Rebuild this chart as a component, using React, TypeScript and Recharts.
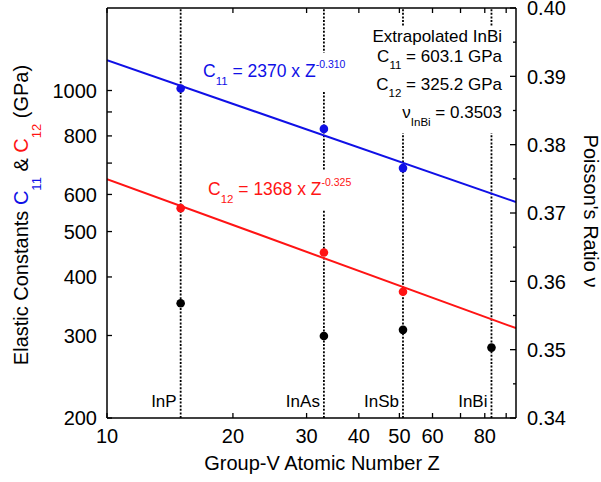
import React from "react";
import { ComposedChart, Line, Scatter, XAxis, YAxis, ReferenceLine } from "recharts";

const FONT = "'Liberation Sans', Arial, Helvetica, sans-serif";
const BLUE = "#1010e6";
const RED = "#ff1414";

// InP, InAs, InSb, InBi at Group-V atomic number Z
const compounds = ["InP", "InAs", "InSb", "InBi"];
const atomicZ = [15, 33, 51, 83];

// measured elastic constants (GPa), no InBi value
const c11Values = [1010, 828, 683];
const c12Values = [561, 451, 372];
// Poisson's ratio, InBi is the extrapolated one
const poissonValues = [0.3568, 0.352, 0.3529, 0.3503];

// power-law fits, read at the plot edges
const fitZ = [10, 95];
const c11Fit = [1161, 578];
const c12Fit = [647, 311];

const xTicks = [10, 20, 30, 40, 50, 60, 70, 80, 90];
const xTickLabels = ["10", "20", "30", "40", "50", "60", "", "80", ""];
const leftTicks = [200, 300, 400, 500, 600, 700, 800, 900, 1000];
const leftTickLabels = ["200", "300", "400", "500", "600", "", "800", "", "1000"];
const rightTicks = [0.34, 0.345, 0.35, 0.355, 0.36, 0.365, 0.37, 0.375, 0.38, 0.385, 0.39, 0.395, 0.4];
const rightTickLabels = ["0.34", "", "0.35", "", "0.36", "", "0.37", "", "0.38", "", "0.39", "", "0.40"];

const c11Data = c11Values.map((v, i) => ({ z: atomicZ[i], v }));
const c12Data = c12Values.map((v, i) => ({ z: atomicZ[i], v }));
const poissonData = poissonValues.map((v, i) => ({ z: atomicZ[i], v }));
const c11FitData = fitZ.map((z, i) => ({ z, v: c11Fit[i] }));
const c12FitData = fitZ.map((z, i) => ({ z, v: c12Fit[i] }));

// white breaks in the dotted guide lines behind the annotations (pixel y)
const lineGaps: Record<string, number[][]> = {
  InP: [],
  InAs: [[53, 92], [170, 210]],
  InSb: [[27, 133]],
  InBi: [[27, 133]],
};

const BottomTick = (p: any) => (
  <g>
    <line x1={p.x} y1={p.y} x2={p.x} y2={p.y - 5} stroke="#000" strokeWidth={1.3} />
    <text x={p.x} y={p.y + 25} textAnchor="middle" fontFamily={FONT} fontSize={20} fill="#000">
      {xTickLabels[p.index]}
    </text>
  </g>
);

const TopTick = (p: any) => (
  <line x1={p.x} y1={p.y} x2={p.x} y2={p.y + 5} stroke="#000" strokeWidth={1.3} />
);

const LeftTick = (p: any) => (
  <g>
    <line x1={p.x} y1={p.y} x2={p.x + 5} y2={p.y} stroke="#000" strokeWidth={1.3} />
    <text x={p.x - 10} y={p.y} dy="0.36em" textAnchor="end" fontFamily={FONT} fontSize={20} fill="#000">
      {leftTickLabels[p.index]}
    </text>
  </g>
);

const RightTick = (p: any) => {
  const label = rightTickLabels[p.index];
  return (
    <g>
      <line x1={p.x} y1={p.y} x2={p.x - (label ? 6 : 3)} y2={p.y} stroke="#000" strokeWidth={1.3} />
      <text x={p.x + 11} y={p.y} dy="0.36em" textAnchor="start" fontFamily={FONT} fontSize={20} fill="#000">
        {label}
      </text>
    </g>
  );
};

const guideLabel = (name: string) => (props: any) => {
  const x = props.viewBox.x;
  return (
    <g>
      {lineGaps[name].map(([a, b], i) => (
        <rect key={i} x={x - 3} y={a} width={6} height={b - a} fill="#fff" />
      ))}
      <text x={x - 4} y={407} textAnchor="end" fontFamily={FONT} fontSize={17} fill="#000">
        {name}
      </text>
    </g>
  );
};

const dot = (color: string) => (p: any) => <circle cx={p.cx} cy={p.cy} r={4.3} fill={color} />;

export default function App() {
  return (
    <div style={{ position: "absolute", left: 0, top: 0, width: 601, height: 482, background: "#fff" }}>
      <ComposedChart width={601} height={482} margin={{ top: 0, right: 0, bottom: 0, left: 0 }}>
        <XAxis
          xAxisId="bottom"
          dataKey="z"
          type="number"
          scale="log"
          domain={[10, 95]}
          allowDataOverflow
          ticks={xTicks}
          interval={0}
          height={64}
          tickSize={0}
          tickMargin={0}
          tickLine={false}
          tick={BottomTick}
          axisLine={{ stroke: "#000", strokeWidth: 1.5 }}
        />
        <XAxis
          xAxisId="top"
          orientation="top"
          dataKey="z"
          type="number"
          scale="log"
          domain={[10, 95]}
          allowDataOverflow
          ticks={xTicks}
          interval={0}
          height={8}
          tickSize={0}
          tickMargin={0}
          tickLine={false}
          tick={TopTick}
          axisLine={{ stroke: "#000", strokeWidth: 1.5 }}
        />
        <YAxis
          yAxisId="left"
          dataKey="v"
          type="number"
          scale="log"
          domain={[200, 1500]}
          allowDataOverflow
          ticks={leftTicks}
          interval={0}
          width={107}
          tickSize={0}
          tickMargin={0}
          tickLine={false}
          tick={LeftTick}
          axisLine={{ stroke: "#000", strokeWidth: 1.5 }}
        />
        <YAxis
          yAxisId="right"
          orientation="right"
          dataKey="v"
          type="number"
          domain={[0.34, 0.4]}
          allowDataOverflow
          ticks={rightTicks}
          interval={0}
          width={85}
          tickSize={0}
          tickMargin={0}
          tickLine={false}
          tick={RightTick}
          axisLine={{ stroke: "#000", strokeWidth: 1.5 }}
        />
        {atomicZ.map((z, i) => (
          <ReferenceLine
            key={compounds[i]}
            x={z}
            xAxisId="bottom"
            yAxisId="left"
            stroke="#000"
            strokeWidth={1.8}
            strokeDasharray="2 1.6"
            label={guideLabel(compounds[i])}
          />
        ))}
        <Line
          data={c11FitData}
          dataKey="v"
          xAxisId="bottom"
          yAxisId="left"
          stroke={BLUE}
          strokeWidth={2}
          dot={false}
          isAnimationActive={false}
        />
        <Line
          data={c12FitData}
          dataKey="v"
          xAxisId="bottom"
          yAxisId="left"
          stroke={RED}
          strokeWidth={2}
          dot={false}
          isAnimationActive={false}
        />
        <Scatter data={c11Data} dataKey="v" xAxisId="bottom" yAxisId="left" shape={dot(BLUE)} isAnimationActive={false} />
        <Scatter data={c12Data} dataKey="v" xAxisId="bottom" yAxisId="left" shape={dot(RED)} isAnimationActive={false} />
        <Scatter data={poissonData} dataKey="v" xAxisId="bottom" yAxisId="right" shape={dot("#000")} isAnimationActive={false} />
      </ComposedChart>

      <svg
        width={601}
        height={482}
        style={{ position: "absolute", left: 0, top: 0, pointerEvents: "none" }}
        fontFamily={FONT}
      >
        {/* fit equations */}
        <text x={203} y={77} fill={BLUE} fontSize={17.5}>
          C<tspan fontSize={11.5} dy={8}>11</tspan>
          <tspan dy={-8}> = 2370 x Z</tspan>
          <tspan fontSize={10.5} dy={-9}>-0.310</tspan>
        </text>
        <text x={208} y={195} fill={RED} fontSize={17.5}>
          C<tspan fontSize={11.5} dy={8}>12</tspan>
          <tspan dy={-8}> = 1368 x Z</tspan>
          <tspan fontSize={10.5} dy={-9}>-0.325</tspan>
        </text>

        {/* extrapolated InBi box */}
        <g fontSize={17} fill="#000" textAnchor="end">
          <text x={502} y={42}>Extrapolated InBi</text>
          <text x={502} y={62}>
            C<tspan fontSize={11.5} dy={7}>11</tspan>
            <tspan dy={-7}> = 603.1 GPa</tspan>
          </text>
          <text x={502} y={90}>
            C<tspan fontSize={11.5} dy={7}>12</tspan>
            <tspan dy={-7}> = 325.2 GPa</tspan>
          </text>
          <text x={502} y={118}>
            ν<tspan fontSize={11.5} dy={8}>InBi</tspan>
            <tspan dy={-8}> = 0.3503</tspan>
          </text>
        </g>

        {/* axis titles */}
        <text x={322} y={470} textAnchor="middle" fontSize={20} fill="#000">
          Group-V Atomic Number Z
        </text>
        <text transform="translate(28,215) rotate(-90)" textAnchor="middle" fontSize={20} fill="#000">
          Elastic Constants <tspan fill={BLUE}>C</tspan>
          <tspan fill={BLUE} fontSize={13} dy={13}>11</tspan>
          <tspan dy={-13}> &amp; </tspan>
          <tspan fill={RED}>C</tspan>
          <tspan fill={RED} fontSize={13} dy={13}>12</tspan>
          <tspan dy={-13}> (GPa)</tspan>
        </text>
        <text transform="translate(584,211) rotate(90)" textAnchor="middle" fontSize={20} fill="#000">
          Poisson's Ratio ν
        </text>
      </svg>
    </div>
  );
}
